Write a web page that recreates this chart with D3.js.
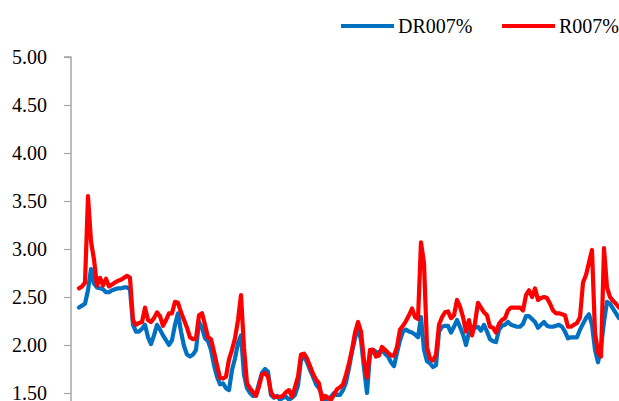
<!DOCTYPE html>
<html>
<head>
<meta charset="utf-8">
<script src="https://cdn.jsdelivr.net/npm/d3@7"></script>
<style>
  body { margin: 0; background: #fff; }
  svg { display: block; }
  svg text { font-family: "Liberation Serif", "Times New Roman", serif; }
</style>
</head>
<body>
<svg></svg>
<script>
// series, one value per trading day
const seriesNames = ["DR007%", "R007%"];
const seriesColors = ["#0070C0", "#FF0000"];
const yTicks = [1.5, 2.0, 2.5, 3.0, 3.5, 4.0, 4.5, 5.0];

const dr007 = [
  2.39, 2.41, 2.43, 2.57, 2.79, 2.64, 2.60, 2.59, 2.58, 2.55,
  2.55, 2.57, 2.58, 2.59, 2.59, 2.60, 2.60, 2.58, 2.21, 2.14,
  2.14, 2.17, 2.21, 2.08, 2.01, 2.10, 2.21, 2.16, 2.10, 2.05,
  2.00, 2.05, 2.21, 2.33, 2.14, 1.99, 1.90, 1.88, 1.90, 1.95,
  2.24, 2.18, 2.07, 2.04, 1.95, 1.79, 1.67, 1.59, 1.60, 1.55,
  1.53, 1.74, 1.86, 2.02, 2.10, 1.69, 1.55, 1.50, 1.47, 1.48,
  1.60, 1.71, 1.75, 1.72, 1.48, 1.45, 1.47, 1.43, 1.45, 1.46,
  1.43, 1.45, 1.48, 1.58, 1.84, 1.89, 1.82, 1.74, 1.67, 1.59,
  1.55, 1.48, 1.43, 1.44, 1.46, 1.50, 1.48, 1.48, 1.53, 1.61,
  1.76, 1.93, 2.07, 2.18, 2.05, 1.76, 1.50, 1.90, 1.95, 1.93,
  1.92, 1.95, 1.91, 1.88, 1.82, 1.78, 1.92, 2.05, 2.14, 2.16,
  2.14, 2.13, 2.11, 2.08, 2.29, 1.95, 1.83, 1.81, 1.77, 1.79,
  2.14, 2.19, 2.20, 2.20, 2.13, 2.19, 2.26, 2.19, 2.11, 2.00,
  2.13, 2.15, 2.18, 2.19, 2.15, 2.21, 2.14, 2.06, 2.04, 2.03,
  2.16, 2.20, 2.21, 2.24, 2.21, 2.20, 2.19, 2.19, 2.22, 2.30,
  2.30, 2.27, 2.24, 2.18, 2.21, 2.24, 2.20, 2.19, 2.19, 2.20,
  2.21, 2.19, 2.14, 2.07, 2.08, 2.08, 2.08, 2.16, 2.22, 2.28,
  2.32, 2.21, 1.95, 1.82, 1.98, 2.24, 2.45, 2.43, 2.38, 2.33,
  2.28
];

const r007 = [
  2.59, 2.61, 2.65, 3.55, 3.08, 2.89, 2.62, 2.70, 2.62, 2.69,
  2.61, 2.63, 2.65, 2.67, 2.68, 2.70, 2.72, 2.70, 2.26, 2.21,
  2.23, 2.24, 2.39, 2.26, 2.24, 2.28, 2.34, 2.30, 2.20, 2.26,
  2.33, 2.33, 2.45, 2.44, 2.34, 2.26, 2.18, 2.08, 2.06, 2.07,
  2.31, 2.33, 2.21, 2.08, 2.06, 1.93, 1.79, 1.66, 1.65, 1.67,
  1.85, 1.95, 2.07, 2.26, 2.52, 1.97, 1.60, 1.55, 1.51, 1.47,
  1.57, 1.69, 1.71, 1.67, 1.51, 1.46, 1.46, 1.46, 1.47, 1.51,
  1.53, 1.46, 1.56, 1.67, 1.90, 1.91, 1.86, 1.78, 1.70, 1.64,
  1.60, 1.43, 1.47, 1.45, 1.43, 1.48, 1.54, 1.56, 1.59, 1.69,
  1.81, 1.95, 2.13, 2.24, 2.14, 1.84, 1.66, 1.95, 1.95, 1.88,
  1.89, 1.98, 1.95, 1.92, 1.89, 1.89, 1.98, 2.16, 2.20, 2.25,
  2.31, 2.38, 2.29, 2.27, 3.07, 2.85, 1.98, 1.86, 1.84, 1.90,
  2.21, 2.29, 2.34, 2.35, 2.28, 2.31, 2.47, 2.40, 2.29, 2.14,
  2.26, 2.10, 2.23, 2.44, 2.39, 2.34, 2.31, 2.19, 2.18, 2.13,
  2.22, 2.26, 2.28, 2.36, 2.39, 2.39, 2.39, 2.39, 2.36, 2.52,
  2.57, 2.50, 2.59, 2.47, 2.49, 2.50, 2.49, 2.43, 2.36, 2.33,
  2.33, 2.32, 2.31, 2.19, 2.19, 2.21, 2.23, 2.29, 2.65, 2.73,
  2.86, 2.99, 2.13, 1.92, 1.88, 3.01, 2.60, 2.50, 2.46, 2.43,
  2.39
];

const width = 619, height = 401;
const svg = d3.select("svg")
    .attr("width", width)
    .attr("height", height);

const x = d3.scaleLinear()
    .domain([0, dr007.length - 1])
    .range([79, 619]);

// the chart continues below the window, so the scale runs past its bottom edge
const y = d3.scaleLinear()
    .domain([1.0, 5.0])
    .range([441, 57]);

// y axis
const yAxis = svg.append("g")
    .attr("transform", "translate(71,0)")
    .call(d3.axisLeft(y)
        .tickValues(yTicks)
        .tickFormat(d3.format(".2f"))
        .tickSize(7)
        .tickPadding(17));

yAxis.attr("font-family", null).attr("font-size", null);
yAxis.select(".domain")
    .attr("d", `M-7,${y(5)}H0V${height}`)
    .attr("stroke", "#a6a6a6")
    .attr("stroke-width", 1.5);
yAxis.selectAll(".tick line").attr("stroke", "#a6a6a6").attr("stroke-width", 1.2);
yAxis.selectAll(".tick text")
    .attr("fill", "#000")
    .style("font-size", "20px");

const line = d3.line()
    .x((d, i) => x(i))
    .y(d => y(d));

const series = [dr007, r007];

svg.append("g")
    .selectAll("path")
    .data(series)
    .enter()
    .append("path")
    .attr("d", line)
    .attr("fill", "none")
    .attr("stroke", (d, i) => seriesColors[i])
    .attr("stroke-width", 4.2)
    .attr("stroke-linejoin", "round")
    .attr("stroke-linecap", "round");

// legend
const legend = svg.append("g")
    .selectAll("g")
    .data(seriesNames)
    .enter()
    .append("g")
    .attr("transform", (d, i) => `translate(${i === 0 ? 341 : 502},26)`);

legend.append("line")
    .attr("x1", 0)
    .attr("x2", 53)
    .attr("stroke", (d, i) => seriesColors[i])
    .attr("stroke-width", 4);

legend.append("text")
    .attr("x", 57)
    .attr("y", 7)
    .style("font-size", "20px")
    .attr("fill", "#000")
    .text(d => d);
</script>
</body>
</html>
